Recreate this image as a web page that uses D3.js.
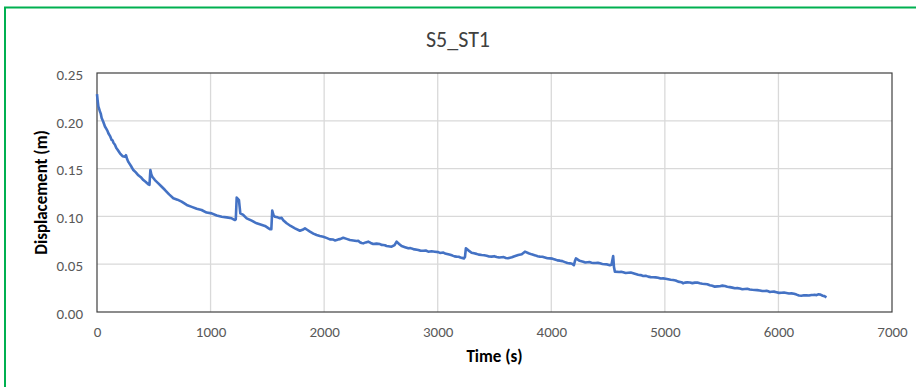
<!DOCTYPE html>
<html>
<head>
<meta charset="utf-8">
<script src="https://cdn.jsdelivr.net/npm/d3@7"></script>
<style>
  html, body { margin: 0; padding: 0; background: #fff; }
  svg { display: block; }
  text { font-family: Carlito, Calibri, "Liberation Sans Narrow", "Open Sans", sans-serif; }
</style>
</head>
<body>
<svg id="chart" width="916" height="387"></svg>
<script>
// Displacement record for test S5_ST1
const chartTitle = "S5_ST1";
const xTicks = [0, 1000, 2000, 3000, 4000, 5000, 6000, 7000];
const yTicks = [0, 0.05, 0.10, 0.15, 0.20, 0.25];

// main readings
const timeSec = [
  0, 5, 12, 25, 41, 55, 70, 85, 100, 115, 129, 145, 158, 180, 202, 225, 246, 255, 265, 276,
  298, 320, 342, 364, 386, 408, 430, 452, 462, 470, 478, 487, 510, 540, 570, 599, 635, 672, 708, 745,
  790, 834, 878, 921, 965, 1010, 1054, 1098, 1142, 1186, 1215, 1222, 1230, 1250, 1256, 1262, 1288, 1318, 1362, 1406,
  1440, 1479, 1505, 1523, 1535, 1543, 1555, 1567, 1590, 1611, 1625, 1640, 1670, 1705, 1743, 1787, 1810, 1831, 1850, 1875,
  1905, 1934, 1962, 1992, 2020, 2051, 2080, 2110, 2140, 2168, 2198, 2227, 2256, 2286, 2315, 2344, 2366, 2388, 2410, 2432,
  2461, 2491, 2520, 2550, 2594, 2620, 2638, 2660, 2682, 2712, 2741, 2785, 2829, 2873, 2917, 2946, 2975, 3005, 3034, 3064,
  3093, 3130, 3166, 3200, 3231, 3240, 3248, 3270, 3298, 3342, 3387, 3431, 3475, 3519, 3563, 3600, 3636, 3670, 3709, 3740,
  3768, 3800, 3827, 3860, 3900, 3944, 3988, 4032, 4076, 4120, 4164, 4199, 4210, 4217, 4250, 4281, 4318, 4355, 4390, 4428,
  4470, 4516, 4530, 4545, 4552, 4560, 4597, 4633, 4677, 4721, 4765, 4809, 4853, 4897, 4941, 4985, 5029, 5073, 5117, 5146,
  5176, 5220, 5264, 5308, 5352, 5396, 5440, 5484, 5528, 5572, 5616, 5660, 5704, 5748, 5792, 5836, 5880, 5910, 5939, 5983,
  6027, 6071, 6115, 6159, 6203, 6247, 6291, 6320, 6350, 6390, 6423
];
const displacement = [
  0.228, 0.222, 0.215, 0.210, 0.203, 0.199, 0.194, 0.191, 0.187, 0.184, 0.180, 0.177, 0.175, 0.170, 0.166, 0.163, 0.1625, 0.164, 0.160, 0.157,
  0.153, 0.1485, 0.146, 0.143, 0.141, 0.138, 0.136, 0.1335, 0.133, 0.1485, 0.144, 0.1415, 0.138, 0.1346, 0.131, 0.1276, 0.123, 0.119, 0.1175, 0.1154,
  0.112, 0.110, 0.108, 0.1067, 0.104, 0.1032, 0.101, 0.0997, 0.099, 0.098, 0.0962, 0.097, 0.1196, 0.117, 0.110, 0.1032, 0.1015, 0.098, 0.0955, 0.0928,
  0.0915, 0.090, 0.088, 0.0865, 0.0865, 0.106, 0.101, 0.0997, 0.099, 0.098, 0.0985, 0.096, 0.0928, 0.090, 0.0875, 0.085, 0.086, 0.0875, 0.086, 0.084,
  0.082, 0.0805, 0.0795, 0.0788, 0.0775, 0.076, 0.0758, 0.0753, 0.0762, 0.0777, 0.0765, 0.0753, 0.0748, 0.0743, 0.0730, 0.0718, 0.0728, 0.0736, 0.0722, 0.0711,
  0.0715, 0.0711, 0.070, 0.069, 0.0683, 0.0700, 0.0736, 0.0712, 0.069, 0.0678, 0.0666, 0.0658, 0.0649, 0.0640, 0.0631, 0.0635, 0.0631, 0.0626, 0.062, 0.0612,
  0.0603, 0.059, 0.0579, 0.0570, 0.0561, 0.0575, 0.0666, 0.0645, 0.062, 0.0608, 0.0596, 0.0588, 0.0579, 0.0576, 0.0572, 0.0565, 0.0568, 0.0580, 0.0596, 0.0605,
  0.0631, 0.0615, 0.0603, 0.0592, 0.0579, 0.0570, 0.0561, 0.0550, 0.0537, 0.0522, 0.0509, 0.049, 0.0540, 0.0561, 0.0535, 0.0526, 0.0521, 0.0516, 0.0512, 0.0509,
  0.0500, 0.049, 0.0495, 0.0586, 0.0470, 0.0422, 0.0418, 0.0415, 0.0410, 0.0405, 0.0390, 0.0377, 0.0370, 0.0363, 0.0358, 0.0352, 0.0343, 0.0335, 0.0318, 0.0312,
  0.0307, 0.0309, 0.0307, 0.0300, 0.0293, 0.0280, 0.0265, 0.0270, 0.0272, 0.0260, 0.0248, 0.0245, 0.0240, 0.0235, 0.0230, 0.0225, 0.0220, 0.0216, 0.0212, 0.0207,
  0.0202, 0.0198, 0.0195, 0.0182, 0.0170, 0.0174, 0.0178, 0.0180, 0.0185, 0.0170, 0.0154
];

// finer readings of the sensor jitter between the main readings
const timeSecFine = [
  33, 92, 137, 170, 2095, 2125, 2300, 2330, 2505, 2535, 2760, 2850, 2895, 3020, 3050, 3110, 3148, 3185,
  3320, 3365, 3410, 3453, 3497, 3541, 3582, 3618, 3653, 3880, 3922, 3966, 4010, 4054, 4098, 4142, 4182,
  4300, 4336, 4372, 4410, 4450, 4492, 4615, 4655, 4700, 4743, 4787, 4831, 4875, 4919, 4963, 5007, 5051, 5095,
  5160, 5198, 5242, 5286, 5330, 5374, 5418, 5462, 5506, 5550, 5594, 5638, 5682, 5726, 5770, 5814, 5858, 5895,
  5925, 5961, 6005, 6049, 6093, 6137, 6181, 6225, 6269, 6305, 6335, 6370, 6405
];
const displacementFine = [
  0.2075, 0.1895, 0.1795, 0.1715, 0.0748, 0.0760, 0.0745, 0.0722, 0.0702, 0.0698, 0.0668, 0.0640, 0.0643, 0.0618, 0.0622, 0.0598, 0.0582, 0.0578,
  0.0614, 0.0600, 0.0594, 0.0580, 0.0584, 0.0570, 0.0574, 0.0562, 0.0572, 0.0583, 0.0578, 0.0562, 0.0558, 0.0540, 0.0532, 0.0512, 0.0505,
  0.0518, 0.0522, 0.0512, 0.0514, 0.0502, 0.0498, 0.0420, 0.0408, 0.0412, 0.0398, 0.0386, 0.0378, 0.0365, 0.0362, 0.0350, 0.0348, 0.0338, 0.0330,
  0.0300, 0.0310, 0.0302, 0.0308, 0.0296, 0.0290, 0.0275, 0.0268, 0.0276, 0.0264, 0.0255, 0.0250, 0.0238, 0.0242, 0.0232, 0.0229, 0.0220, 0.0222,
  0.0210, 0.0213, 0.0200, 0.0203, 0.0193, 0.0190, 0.0172, 0.0175, 0.0172, 0.0178, 0.0176, 0.0182, 0.0166
];

const points = timeSec.map((t, i) => ({ t, v: displacement[i] }))
  .concat(timeSecFine.map((t, i) => ({ t, v: displacementFine[i] })))
  .sort((a, b) => a.t - b.t);

const svg = d3.select("#chart");
const plot = { left: 97, right: 892, top: 73, bottom: 312 };
const font = 'Carlito, Calibri, "Liberation Sans Narrow", "Open Sans", sans-serif';

const x = d3.scaleLinear().domain([0, 7000]).range([plot.left, plot.right]);
const y = d3.scaleLinear().domain([0, 0.25]).range([plot.bottom, plot.top]);

// chart frame
svg.append("rect")
  .attr("x", 5).attr("y", 7.5)
  .attr("width", 930).attr("height", 400)
  .attr("fill", "#fff")
  .attr("stroke", "#00b050").attr("stroke-width", 2);

// title
svg.append("text")
  .attr("x", 458).attr("y", 47)
  .attr("text-anchor", "middle")
  .attr("font-size", 22)
  .attr("fill", "#404040")
  .text(chartTitle);

// gridlines
const grid = svg.append("g").attr("stroke", "#d9d9d9").attr("stroke-width", 1.3);
grid.selectAll(".gx").data(xTicks.slice(1, -1)).join("line")
  .attr("x1", d => x(d)).attr("x2", d => x(d))
  .attr("y1", plot.top).attr("y2", plot.bottom);
grid.selectAll(".gy").data(yTicks.slice(1, -1)).join("line")
  .attr("x1", plot.left).attr("x2", plot.right)
  .attr("y1", d => y(d)).attr("y2", d => y(d));

// axes (labels only, no tick marks)
const xAxis = svg.append("g")
  .attr("transform", `translate(0,${plot.bottom})`)
  .call(d3.axisBottom(x).tickValues(xTicks).tickSize(0).tickPadding(14).tickFormat(d3.format("d")));
const yAxis = svg.append("g")
  .attr("transform", `translate(${plot.left},0)`)
  .call(d3.axisLeft(y).tickValues(yTicks).tickSize(0).tickPadding(14).tickFormat(d3.format(".2f")));
[xAxis, yAxis].forEach(g => {
  g.select(".domain").remove();
  g.selectAll("text").attr("fill", "#595959").attr("font-size", 15).style("font-family", font);
});
yAxis.selectAll("text").attr("dy", "0.42em");

// plot border
svg.append("rect")
  .attr("x", plot.left).attr("y", plot.top)
  .attr("width", plot.right - plot.left).attr("height", plot.bottom - plot.top)
  .attr("fill", "none").attr("stroke", "#404040").attr("stroke-width", 1.2);

// series
const line = d3.line().x(d => x(d.t)).y(d => y(d.v));
svg.append("path")
  .datum(points)
  .attr("d", line)
  .attr("fill", "none")
  .attr("stroke", "#4472c4")
  .attr("stroke-width", 2.6)
  .attr("stroke-linejoin", "round");

// axis titles
svg.append("text")
  .attr("x", (plot.left + plot.right) / 2).attr("y", 362)
  .attr("text-anchor", "middle")
  .attr("font-size", 17).attr("font-weight", "bold").attr("fill", "#000")
  .text("Time (s)");
svg.append("text")
  .attr("transform", `translate(47,${(plot.top + plot.bottom) / 2}) rotate(-90)`)
  .attr("text-anchor", "middle")
  .attr("font-size", 17).attr("font-weight", "bold").attr("fill", "#000")
  .text("Displacement (m)");
</script>
</body>
</html>
